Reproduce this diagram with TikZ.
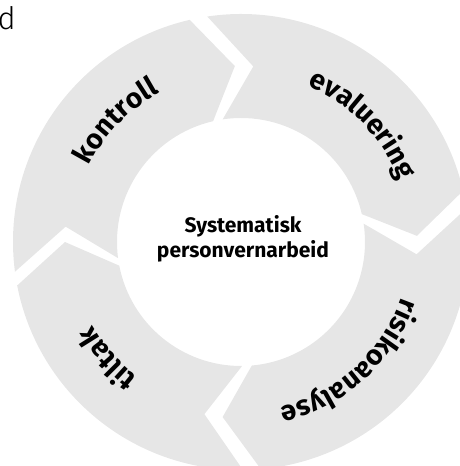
\documentclass[tikz,border=0pt]{standalone}
\usepackage{fontspec}
\setmainfont{Fira Sans}
\newfontfamily\lightfont{Fira Sans Light}
\usepackage{tikz}
\usetikzlibrary{decorations.text}
\definecolor{cyclegrey}{RGB}{230,230,230}
\newcommand{\cyclefont}{\fontsize{28}{28}\selectfont\bfseries}
\tikzset{%
    segment/.style={fill=cyclegrey, draw=none},
    steplabel/.style={%
        decorate,
        decoration={text along path, text align=center, text={|\cyclefont|#1}}
    }
}

\begin{document}
\begin{tikzpicture}[x=1pt,y=1pt]
\useasboundingbox (-241,-224) rectangle (219,242);

\fill[segment] (187.5:228) arc[start angle=187.5, end angle=103, radius=228] -- (92:176) -- (103:124) arc[start angle=103, end angle=187.5, radius=124] -- (175:176) -- cycle;
\fill[segment] (98.5:228) arc[start angle=98.5, end angle=13, radius=228] -- (2:176) -- (13:124) arc[start angle=13, end angle=98.5, radius=124] -- (86:176) -- cycle;
\fill[segment] (8.5:228) arc[start angle=8.5, end angle=-85, radius=228] -- (-96:176) -- (-85:124) arc[start angle=-85, end angle=8.5, radius=124] -- (-4:176) -- cycle;
\fill[segment] (-89.5:228) arc[start angle=-89.5, end angle=-169, radius=228] -- (-180:176) -- (-169:124) arc[start angle=-169, end angle=-89.5, radius=124] -- (-102:176) -- cycle;

\path[steplabel=kontroll] (176:170) arc[start angle=176, end angle=96, radius=170];
\path[steplabel=evaluering] (84:170) arc[start angle=84, end angle=4, radius=170];
\path[steplabel=risikoanalyse] (-8:170) arc[start angle=-8, end angle=-88, radius=170];
\path[steplabel=tiltak] (-99:170) arc[start angle=-99, end angle=-179, radius=170];

\node[font=\bfseries\fontsize{21}{25}\selectfont, align=center] (centre) at (2,3) {Systematisk\\personvernarbeid};
\node[font=\lightfont\fontsize{31}{31}\selectfont, anchor=base east, inner sep=0pt] (cut) at (-225,212) {d};
\end{tikzpicture}
\end{document}
